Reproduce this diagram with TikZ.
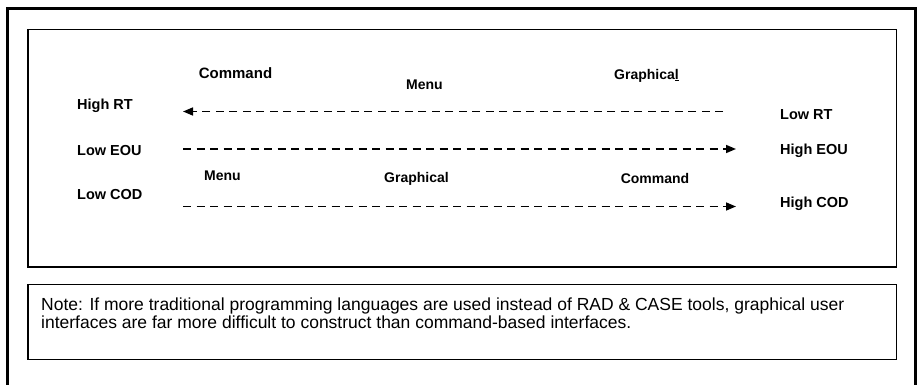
\documentclass[tikz,border=0pt]{standalone}
\usepackage{fontspec}
\setmainfont{Liberation Sans}
\usetikzlibrary{arrows.meta}

\begin{document}
\begin{tikzpicture}[x=1pt,y=-1pt,
  lbl/.style={font=\bfseries\fontsize{14.5}{16}\selectfont, inner sep=0pt, anchor=base west},
  ui/.style={font=\bfseries\fontsize{14}{16}\selectfont, inner sep=0pt, anchor=base},
  dashline/.style={line width=1.6pt, dash pattern=on 8pt off 5.5pt},
  tip/.style={-{Triangle[length=10pt,width=8pt]}}]
\useasboundingbox (0,0) rectangle (919,384);
\clip (0,0) rectangle (919,384);

% Outer frame
\draw[line width=3pt] (7.5,400) -- (7.5,8.5) -- (915.5,8.5) -- (915.5,400);

% Boxes
\draw[line width=1.8pt] (28,29.5) rectangle (896.5,267);
\draw[line width=1.8pt] (28,284.5) rectangle (896.5,359.5);

% Left labels
\node[lbl] (hirt) at (77,109) {High RT};
\node[lbl] (loeou) at (77,155) {Low EOU};
\node[lbl] (locod) at (77,199) {Low COD};

% Right labels
\node[lbl] (lort) at (780,119) {Low RT};
\node[lbl] (hieou) at (780,154) {High EOU};
\node[lbl] (hicod) at (780,207) {High COD};

% Interface types
\node[ui, font=\bfseries\fontsize{15}{17}\selectfont] (cmda) at (235.5,78) {Command};
\node[ui] (menua) at (424.5,89) {Menu};
\node[ui] (grapha) at (646.5,79) {Graphica\underline{l}};
\node[ui] (menub) at (222.5,180) {Menu};
\node[ui] (graphb) at (416.5,182) {Graphical};
\node[ui] (cmdb) at (655,183) {Command};

% Arrow ends
\coordinate (rt-r) at (723,111.5);
\coordinate (rt-l) at (183,111.5);
\coordinate (eou-l) at (183,149);
\coordinate (eou-r) at (736,149);
\coordinate (cod-l) at (183,206.5);
\coordinate (cod-r) at (736,206.5);

% Arrows
\draw[dashline, tip] (rt-r) -- (rt-l);
\draw[dashline, tip] (eou-l) -- (eou-r);
\draw[dashline, tip] (cod-l) -- (cod-r);

% Note
\node[anchor=base west, inner sep=0pt, align=left, font=\fontsize{17.5}{18}\selectfont] (note) at (41,328)
  {Note: If more traditional programming languages are used instead of RAD \& CASE tools, graphical user\\
   interfaces are far more difficult to construct than command-based interfaces.};
\end{tikzpicture}
\end{document}
